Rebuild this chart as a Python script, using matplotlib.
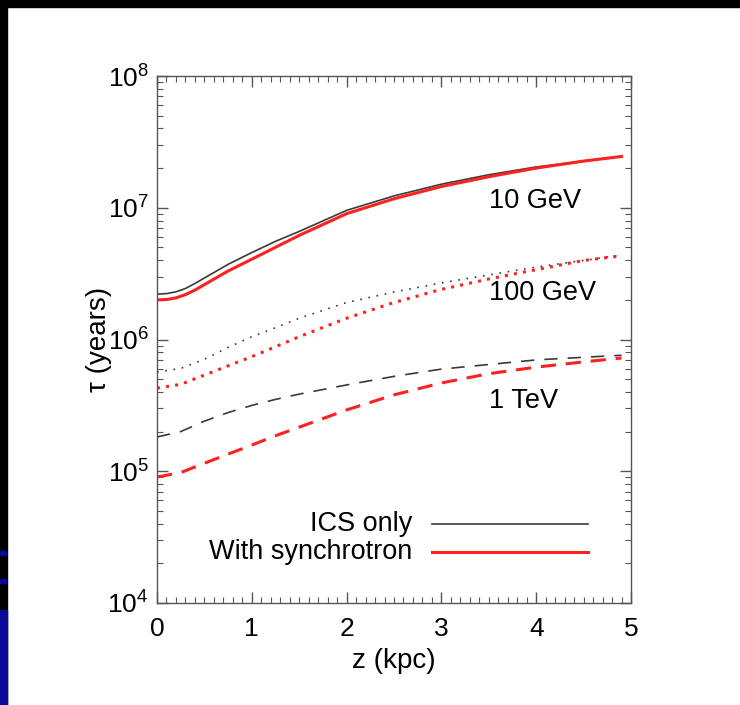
import numpy as np
import matplotlib
matplotlib.use("Agg")
import matplotlib.pyplot as plt
from matplotlib.patches import Rectangle
from matplotlib.ticker import FixedLocator, LogLocator, NullFormatter

plt.rcParams['font.family'] = ['Liberation Sans', 'DejaVu Sans']
plt.rcParams['mathtext.fontset'] = 'custom'
plt.rcParams['mathtext.rm'] = 'Liberation Sans'
plt.rcParams['mathtext.it'] = 'Liberation Sans'

# height above the plane (kpc)
z_10gev = [0, 0.1, 0.2, 0.3, 0.4, 0.5, 0.75, 1.0, 1.25, 1.5, 2.0, 2.5, 3.0, 3.5, 4.0, 4.5, 4.9]
z = [0, 0.25, 0.5, 0.75, 1.0, 1.25, 1.5, 2.0, 2.5, 3.0, 3.5, 4.0, 4.5, 4.9]

# loss time (years), ICS only / with synchrotron
ics_10gev = [2.21e6, 2.23e6, 2.30e6, 2.44e6, 2.66e6, 2.93e6, 3.72e6, 4.57e6, 5.56e6,
             6.61e6, 9.55e6, 1.23e7, 1.51e7, 1.78e7, 2.04e7, 2.26e7, 2.45e7]
syn_10gev = [2.00e6, 2.01e6, 2.07e6, 2.19e6, 2.37e6, 2.61e6, 3.31e6, 4.07e6, 5.01e6,
             6.17e6, 9.02e6, 1.17e7, 1.45e7, 1.72e7, 2.00e7, 2.26e7, 2.45e7]
ics_100gev = [5.66e5, 6.03e5, 7.08e5, 8.71e5, 1.05e6, 1.23e6, 1.45e6,
              1.91e6, 2.29e6, 2.69e6, 3.09e6, 3.55e6, 3.98e6, 4.37e6]
syn_100gev = [4.27e5, 4.57e5, 5.37e5, 6.31e5, 7.41e5, 8.81e5, 1.05e6,
              1.45e6, 1.91e6, 2.40e6, 2.88e6, 3.39e6, 3.98e6, 4.32e6]
ics_1tev = [1.82e5, 2.00e5, 2.40e5, 2.79e5, 3.16e5, 3.51e5, 3.85e5,
            4.52e5, 5.25e5, 5.96e5, 6.46e5, 7.00e5, 7.33e5, 7.59e5]
syn_1tev = [9.04e4, 9.77e4, 1.15e5, 1.35e5, 1.58e5, 1.86e5, 2.16e5,
            2.92e5, 3.80e5, 4.68e5, 5.50e5, 6.17e5, 6.76e5, 7.24e5]

energy_labels = ["10 GeV", "100 GeV", "1 TeV"]
energy_label_tau = [1.12e7, 2.25e6, 3.4e5]
legend_labels = ["ICS only", "With synchrotron"]
legend_tau = [4.0e4, 2.42e4]

fig = plt.figure(figsize=(7.4, 7.05), dpi=100)
fig.patch.set_facecolor("white")

# slide border decoration
fig.patches.append(Rectangle((0, 1 - 7 / 705), 1, 7 / 705, transform=fig.transFigure,
                             color="black", zorder=0))
fig.patches.append(Rectangle((0, 0), 7 / 740, 1, transform=fig.transFigure,
                             color="black", zorder=0))
fig.patches.append(Rectangle((0, 0), 7 / 740, 95 / 705, transform=fig.transFigure,
                             color="#0a0a9a", zorder=1))
for yy in (150, 122):
    fig.patches.append(Rectangle((0, yy / 705), 6 / 740, 4 / 705, transform=fig.transFigure,
                                 color="#0a0a9a", zorder=1))

ax = fig.add_axes([157 / 740, 1 - 603 / 705, 474 / 740, 527 / 705])

black = "#3a3a3a"
red = "#ff2020"
ax.plot(z_10gev, ics_10gev, color=black, lw=1.2)
ax.plot(z_10gev, syn_10gev, color=red, lw=2.2)
ax.plot(z, ics_100gev, color=black, lw=1.2, linestyle=(0, (1, 4)))
ax.plot(z, syn_100gev, color=red, lw=2.2, linestyle=(0, (1, 2.0)))
ax.plot(z, ics_1tev, color=black, lw=1.2, linestyle=(0, (8, 6)))
ax.plot(z, syn_1tev, color=red, lw=2.2, linestyle=(0, (5, 3.2)))

for lab, tv in zip(energy_labels, energy_label_tau):
    ax.text(3.5, tv, lab, fontsize=19.5, ha="left", va="center")

# legend drawn by hand, text to the left of the sample line
for lab, tv, col, lw in zip(legend_labels, legend_tau, [black, red], [1.2, 2.2]):
    ax.text(2.69, tv, lab, fontsize=19.5, ha="right", va="center")
    ax.plot([2.90, 4.55], [tv, tv], color=col, lw=lw)

ax.set_yscale("log")
ax.set_xlim(0, 5)
ax.set_ylim(1e4, 1e8)
ax.set_xticks([0, 1, 2, 3, 4, 5])
ax.xaxis.set_minor_locator(FixedLocator(np.arange(0, 5.01, 0.1)))
ax.yaxis.set_major_locator(LogLocator(base=10, numticks=10))
ax.yaxis.set_minor_locator(LogLocator(base=10, subs=np.arange(2, 10), numticks=20))
ax.yaxis.set_minor_formatter(NullFormatter())
ax.tick_params(which="both", direction="in", top=True, right=True, color="#555555",
               labelsize=19)
ax.tick_params(which="major", length=8, width=1.0)
ax.tick_params(which="minor", length=4, width=0.8)
ax.tick_params(axis="x", pad=10)
ax.tick_params(axis="y", pad=6)
for s in ax.spines.values():
    s.set_color("#555555")
    s.set_linewidth(1.0)

ax.set_xlabel("z (kpc)", fontsize=20, labelpad=5)
ax.set_ylabel("τ (years)", fontsize=20, labelpad=-3)

fig.savefig("out.png", dpi=100, facecolor="white")
